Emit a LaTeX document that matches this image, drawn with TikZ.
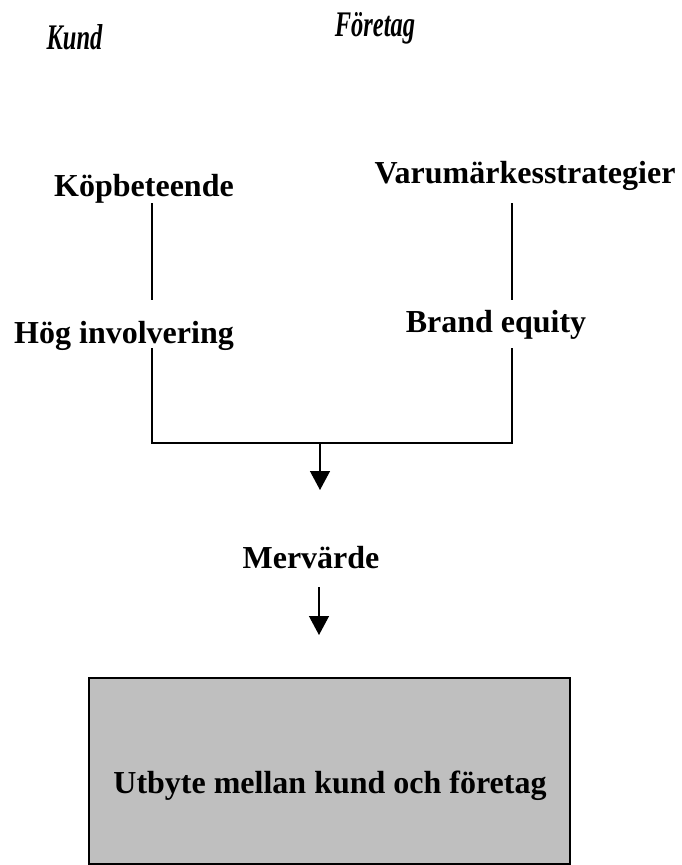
\documentclass[tikz,border=0pt]{standalone}
\usepackage{fontspec}
\usepackage{graphicx}
\setmainfont{Liberation Serif}
\usetikzlibrary{arrows.meta}
\newcommand{\narrowhead}[1]{\scalebox{0.68}[1]{#1}}
\begin{document}
\begin{tikzpicture}[x=1pt,y=-1pt,
  lbl/.style={inner sep=0pt,anchor=base,font=\fontsize{32}{38}\selectfont\bfseries},
  head/.style={inner sep=0pt,anchor=base,font=\fontsize{36}{42}\selectfont\bfseries\itshape},
  conn/.style={line width=1.3pt},
  arr/.style={line width=1.3pt,-{Triangle[width=20pt,length=19pt]}}]
\useasboundingbox (0,0) rectangle (681,865);
\node[head] (kund) at (74.5,49) {\narrowhead{Kund}};
\node[head] (foretag) at (375,36) {\narrowhead{Företag}};
\node[lbl] (kop) at (144,196) {Köpbeteende};
\node[lbl] (varu) at (525,183) {Varumärkesstrategier};
\node[lbl] (hog) at (124,343) {Hög involvering};
\node[lbl] (brand) at (496,332) {Brand equity};
\node[lbl] (mer) at (311,568) {Mervärde};
\node[draw=black,line width=1.3pt,fill=black!25,minimum width=481pt,minimum height=186pt,inner sep=0pt] (box) at (329.5,771) {};
\node[lbl] (utb) at (330,793) {Utbyte mellan kund och företag};
\coordinate (l1) at (152,203); \coordinate (l2) at (152,300);
\coordinate (r1) at (512,203); \coordinate (r2) at (512,300);
\coordinate (l3) at (152,348); \coordinate (l4) at (152,443);
\coordinate (r3) at (512,348); \coordinate (r4) at (512,443);
\coordinate (m1) at (320,443); \coordinate (m2) at (320,490);
\coordinate (n1) at (319,587); \coordinate (n2) at (319,635);
\draw[conn] (l1) -- (l2);
\draw[conn] (r1) -- (r2);
\draw[conn] (l3) -- (l4) -- (r4) -- (r3);
\draw[arr] (m1) -- (m2);
\draw[arr] (n1) -- (n2);
\end{tikzpicture}
\end{document}
